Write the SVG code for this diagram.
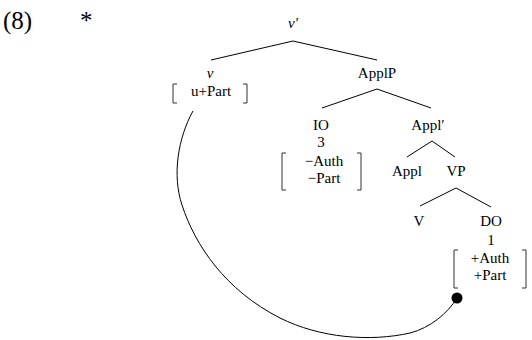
<svg xmlns="http://www.w3.org/2000/svg" width="532" height="340" viewBox="0 0 532 340" font-family="'Liberation Serif', 'DejaVu Serif', serif">
<style>
text{font-family:'Liberation Serif','DejaVu Serif',serif;font-size:15px;fill:#000;text-anchor:middle}
.it{font-style:italic}
.big{font-size:25px;text-anchor:start}
.edge{stroke:#000;stroke-width:1;fill:none}
.br{stroke:#333;stroke-width:1;fill:none}
</style>
<rect width="532" height="340" fill="#fff"/>
<text class="big" x="3" y="29">(8)</text>
<text class="big" x="80" y="29">*</text>
<g id="connectors">
<path class="edge" d="M211,60 L293,41 L377,60"/>
<path class="edge" d="M322,108 L377,89 L431,108"/>
<path class="edge" d="M407,157 L432,141 L455,157"/>
<path class="edge" d="M420,206 L456,188 L491,207"/>
<path class="edge" d="M193,111 C178,138 172,175 182,205 C195,245 225,290 280,318 C320,338 370,342 410,333 C430,328 448,313 457,298"/>
<circle cx="457" cy="298" r="5.5" fill="#000"/>
</g>
<g id="vbar"><text class="it" x="293" y="28">v′</text></g>
<g id="v">
<text class="it" x="210" y="78">v</text>
<text x="211" y="96">u+Part</text>
<path class="br" d="M177,84 H173 V103 H177"/>
<path class="br" d="M243,84 H247 V103 H243"/>
</g>
<g id="ApplP"><text x="377" y="78">ApplP</text></g>
<g id="IO">
<text x="321" y="130">IO</text>
<text x="321" y="147">3</text>
<text x="324" y="166">−Auth</text>
<text x="324" y="183">−Part</text>
<path class="br" d="M286,153 H282 V190 H286"/>
<path class="br" d="M357,153 H361 V190 H357"/>
</g>
<g id="Applbar"><text x="428" y="130">Appl′</text></g>
<g id="Appl"><text x="407" y="176">Appl</text></g>
<g id="VP"><text x="456" y="176">VP</text></g>
<g id="V"><text x="419" y="226">V</text></g>
<g id="DO">
<text x="491" y="226">DO</text>
<text x="491" y="245">1</text>
<text x="490" y="263">+Auth</text>
<text x="490" y="280">+Part</text>
<path class="br" d="M458,250 H454 V288 H458"/>
<path class="br" d="M522,250 H526 V288 H522"/>
</g>
</svg>
